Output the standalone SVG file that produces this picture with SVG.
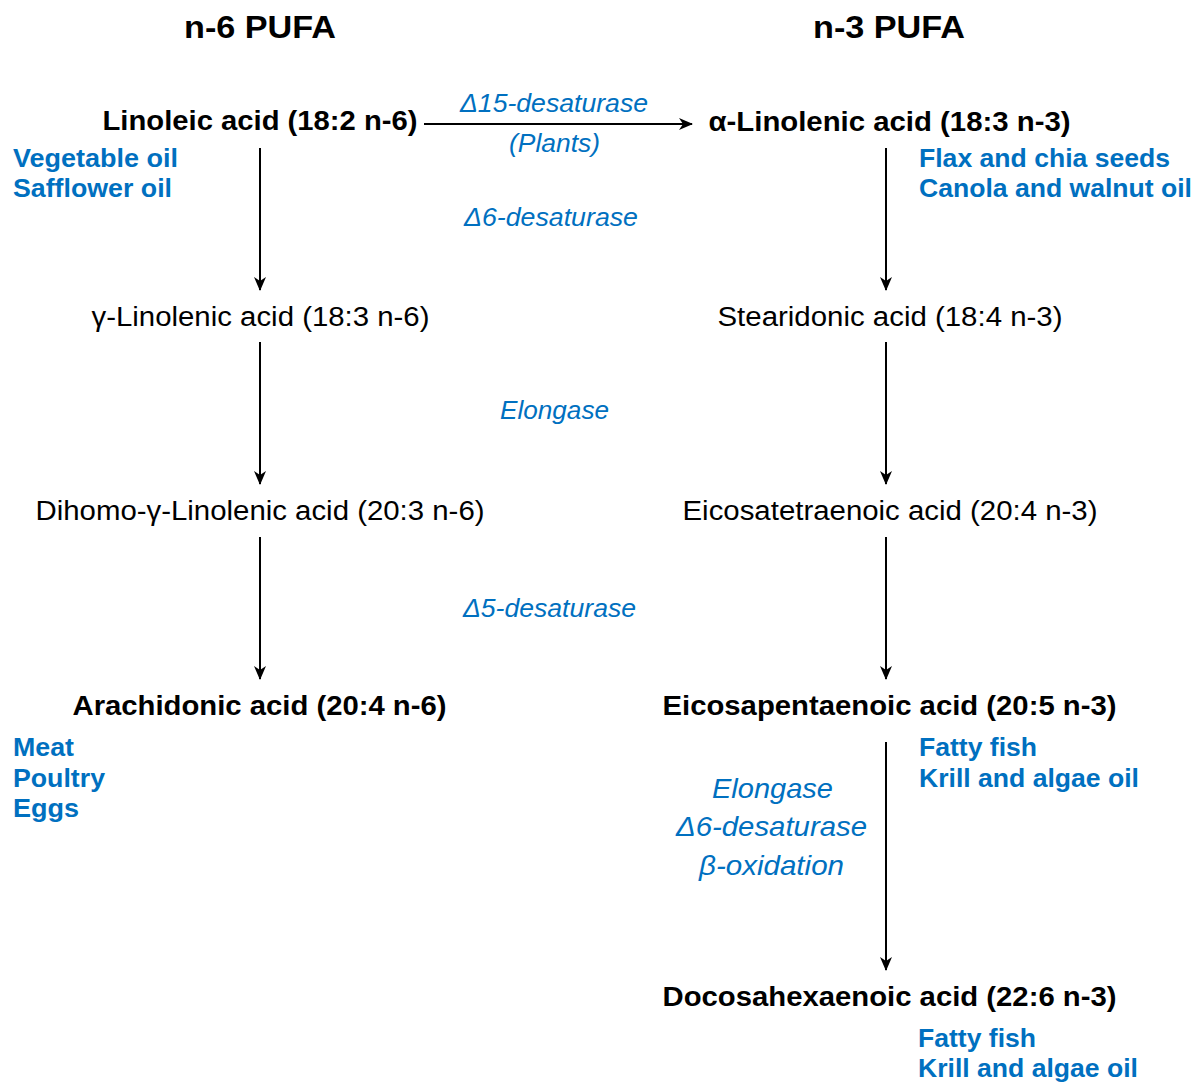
<svg xmlns="http://www.w3.org/2000/svg" width="1195" height="1082" viewBox="0 0 1195 1082">
<defs>
<marker id="ah" viewBox="0 0 14 12" refX="13" refY="6" markerWidth="14" markerHeight="12" markerUnits="userSpaceOnUse" orient="auto">
<path d="M0,0 L14,6 L0,12 L4,6 Z" fill="#000"/>
</marker>
<style>
text{font-family:"Liberation Sans",Arial,sans-serif;}
.title{font-size:31px;font-weight:bold;fill:#000;text-anchor:middle;}
.b{font-size:27px;font-weight:bold;fill:#000;text-anchor:middle;}
.r{font-size:27px;fill:#000;text-anchor:middle;}
.src{font-size:25px;font-weight:bold;fill:#0070C0;}
.enz{font-size:25px;font-style:italic;fill:#0070C0;text-anchor:middle;}
.enz2{font-size:28px;font-style:italic;fill:#0070C0;text-anchor:middle;}
.c{stroke:#000;stroke-width:2;fill:none;marker-end:url(#ah);}
</style>
</defs>
<g id="headers">
<text class="title" x="260" y="38" textLength="152" lengthAdjust="spacingAndGlyphs">n-6 PUFA</text>
<text class="title" x="889" y="38" textLength="152" lengthAdjust="spacingAndGlyphs">n-3 PUFA</text>
</g>
<g id="linoleic">
<text class="b" x="260" y="130" textLength="315" lengthAdjust="spacingAndGlyphs">Linoleic acid (18:2 n-6)</text>
<text class="src" x="13" y="167" textLength="165" lengthAdjust="spacingAndGlyphs">Vegetable oil</text>
<text class="src" x="13" y="197" textLength="159" lengthAdjust="spacingAndGlyphs">Safflower oil</text>
</g>
<g id="alinolenic">
<text class="b" x="889.5" y="131" textLength="362" lengthAdjust="spacingAndGlyphs">α-Linolenic acid (18:3 n-3)</text>
<text class="src" x="919" y="167" textLength="251" lengthAdjust="spacingAndGlyphs">Flax and chia seeds</text>
<text class="src" x="919" y="197" textLength="273" lengthAdjust="spacingAndGlyphs">Canola and walnut oil</text>
</g>
<g id="glinolenic"><text class="r" x="260.5" y="326" textLength="338" lengthAdjust="spacingAndGlyphs">γ-Linolenic acid (18:3 n-6)</text></g>
<g id="stearidonic"><text class="r" x="890" y="326" textLength="345" lengthAdjust="spacingAndGlyphs">Stearidonic acid (18:4 n-3)</text></g>
<g id="dgla"><text class="r" x="260" y="520" textLength="449" lengthAdjust="spacingAndGlyphs">Dihomo-γ-Linolenic acid (20:3 n-6)</text></g>
<g id="eta"><text class="r" x="890" y="520" textLength="415" lengthAdjust="spacingAndGlyphs">Eicosatetraenoic acid (20:4 n-3)</text></g>
<g id="arachidonic">
<text class="b" x="259.5" y="715" textLength="374" lengthAdjust="spacingAndGlyphs">Arachidonic acid (20:4 n-6)</text>
<text class="src" x="13" y="756" textLength="61" lengthAdjust="spacingAndGlyphs">Meat</text>
<text class="src" x="13" y="787" textLength="92" lengthAdjust="spacingAndGlyphs">Poultry</text>
<text class="src" x="13" y="817" textLength="66" lengthAdjust="spacingAndGlyphs">Eggs</text>
</g>
<g id="epa">
<text class="b" x="889.5" y="715" textLength="454" lengthAdjust="spacingAndGlyphs">Eicosapentaenoic acid (20:5 n-3)</text>
<text class="src" x="919" y="756" textLength="118" lengthAdjust="spacingAndGlyphs">Fatty fish</text>
<text class="src" x="919" y="787" textLength="220" lengthAdjust="spacingAndGlyphs">Krill and algae oil</text>
</g>
<g id="dha">
<text class="b" x="889.5" y="1006" textLength="454" lengthAdjust="spacingAndGlyphs">Docosahexaenoic acid (22:6 n-3)</text>
<text class="src" x="918" y="1047" textLength="118" lengthAdjust="spacingAndGlyphs">Fatty fish</text>
<text class="src" x="918" y="1077" textLength="220" lengthAdjust="spacingAndGlyphs">Krill and algae oil</text>
</g>
<g id="enzymes">
<text class="enz" x="554" y="112" textLength="188" lengthAdjust="spacingAndGlyphs">Δ15-desaturase</text>
<text class="enz" x="554.5" y="152" textLength="91" lengthAdjust="spacingAndGlyphs">(Plants)</text>
<text class="enz" x="551" y="226" textLength="174" lengthAdjust="spacingAndGlyphs">Δ6-desaturase</text>
<text class="enz" x="554.5" y="419" textLength="109" lengthAdjust="spacingAndGlyphs">Elongase</text>
<text class="enz" x="549.5" y="617" textLength="173" lengthAdjust="spacingAndGlyphs">Δ5-desaturase</text>
<text class="enz2" x="772.5" y="798" textLength="121" lengthAdjust="spacingAndGlyphs">Elongase</text>
<text class="enz2" x="771.5" y="836" textLength="191" lengthAdjust="spacingAndGlyphs">Δ6-desaturase</text>
<text class="enz2" x="771.5" y="875" textLength="145" lengthAdjust="spacingAndGlyphs">β-oxidation</text>
</g>
<g id="connectors">
<line class="c" x1="424" y1="124" x2="692" y2="124"/>
<line class="c" x1="260" y1="148" x2="260" y2="290"/>
<line class="c" x1="886" y1="148" x2="886" y2="290"/>
<line class="c" x1="260" y1="342" x2="260" y2="484"/>
<line class="c" x1="886" y1="342" x2="886" y2="484"/>
<line class="c" x1="260" y1="537" x2="260" y2="679"/>
<line class="c" x1="886" y1="537" x2="886" y2="679"/>
<line class="c" x1="886" y1="742" x2="886" y2="970"/>
</g>
</svg>
